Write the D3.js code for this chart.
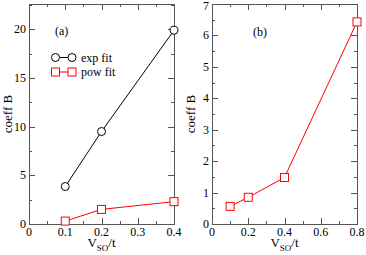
<!DOCTYPE html>
<html>
<head>
<meta charset="utf-8">
<script src="https://cdn.jsdelivr.net/npm/d3@7"></script>
<style>
  body { margin: 0; background: #fff; }
  svg text { font-family: "Liberation Serif", "Times New Roman", Times, serif; font-weight: normal; fill: #000; }
</style>
</head>
<body>
<div id="chart"></div>
<script>
// Panel (a) data
const xA = [0.1, 0.2, 0.4];
const expFit = [3.85, 9.5, 19.9];
const powFit = [0.3, 1.5, 2.3];

// Panel (b) data
const xB = [0.1, 0.2, 0.4, 0.8];
const powFitB = [0.56, 0.85, 1.48, 6.43];

// Tick labels
const xTicksA = [0, 0.1, 0.2, 0.3, 0.4];
const yTicksA = [0, 5, 10, 15, 20];
const xTicksB = [0, 0.2, 0.4, 0.6, 0.8];
const yTicksB = [0, 1, 2, 3, 4, 5, 6, 7];

const legendNames = ["exp fit", "pow fit"];
const red = "#ff0000";

const width = 366, height = 255;
const svg = d3.select("#chart").append("svg")
  .attr("width", width).attr("height", height);

buildPanel({
  left: 29, right: 174, top: 4, bottom: 224,
  xDomain: [0, 0.4], yDomain: [0, 22.6],
  xTicks: xTicksA, xMinor: d3.range(0, 0.4001, 0.05),
  yTicks: yTicksA, yMinor: d3.range(0, 22.6, 2.5),
  xFormat: d => d === 0 ? "0" : d3.format(".1f")(d),
  label: "(a)", labelPos: [55, 35],
  series: [
    { x: xA, y: expFit, color: "#000", marker: "circle" },
    { x: xA, y: powFit, color: red, marker: "square" }
  ],
  legend: true
});

buildPanel({
  left: 212, right: 357, top: 4, bottom: 224,
  xDomain: [0, 0.8], yDomain: [0, 7],
  xTicks: xTicksB, xMinor: d3.range(0, 0.8001, 0.1),
  yTicks: yTicksB, yMinor: d3.range(0, 7.001, 0.5),
  xFormat: d => d === 0 ? "0" : d3.format(".1f")(d),
  label: "(b)", labelPos: [253, 36],
  series: [
    { x: xB, y: powFitB, color: red, marker: "square" }
  ],
  legend: false
});

function buildPanel(p) {
  const x = d3.scaleLinear().domain(p.xDomain).range([p.left, p.right]);
  const y = d3.scaleLinear().domain(p.yDomain).range([p.bottom, p.top]);
  const g = svg.append("g");

  // Frame
  g.append("rect")
    .attr("x", p.left + 0.5).attr("y", p.top + 0.5)
    .attr("width", p.right - p.left).attr("height", p.bottom - p.top)
    .attr("fill", "none").attr("stroke", "#555").attr("stroke-width", 1);

  // Inward ticks on all four sides
  const tk = g.append("g").attr("stroke", "#555").attr("stroke-width", 1);
  const isMajor = (v, list) => list.some(t => Math.abs(t - v) < 1e-6);
  p.xMinor.forEach(v => {
    const len = isMajor(v, p.xTicks) ? 6 : 3;
    const px = Math.round(x(v)) + 0.5;
    tk.append("line").attr("x1", px).attr("x2", px)
      .attr("y1", p.bottom).attr("y2", p.bottom - len);
    tk.append("line").attr("x1", px).attr("x2", px)
      .attr("y1", p.top).attr("y2", p.top + len);
  });
  p.yMinor.forEach(v => {
    const len = isMajor(v, p.yTicks) ? 6 : 3;
    const py = Math.round(y(v)) + 0.5;
    tk.append("line").attr("y1", py).attr("y2", py)
      .attr("x1", p.left).attr("x2", p.left + len);
    tk.append("line").attr("y1", py).attr("y2", py)
      .attr("x1", p.right).attr("x2", p.right - len);
  });

  // Tick labels
  g.selectAll(".xl").data(p.xTicks).enter().append("text")
    .attr("x", d => x(d)).attr("y", p.bottom + 12)
    .attr("text-anchor", "middle").attr("font-size", 12)
    .text(p.xFormat);
  g.selectAll(".yl").data(p.yTicks).enter().append("text")
    .attr("x", p.left - 3).attr("y", d => Math.max(y(d) + 4, 10))
    .attr("text-anchor", "end").attr("font-size", 12)
    .text(d => d);

  // Axis titles
  const xt = g.append("text")
    .attr("x", (p.left + p.right) / 2).attr("y", 247)
    .attr("text-anchor", "middle").attr("font-size", 13);
  xt.append("tspan").text("V");
  xt.append("tspan").attr("font-size", 9).attr("dy", 4).text("SO");
  xt.append("tspan").attr("dy", -4).text("/t");

  g.append("text")
    .attr("transform", `translate(${p.left - 17},${(p.top + p.bottom) / 2}) rotate(-90)`)
    .attr("text-anchor", "middle").attr("font-size", 13)
    .text("coeff B");

  // Panel label
  g.append("text")
    .attr("x", p.labelPos[0]).attr("y", p.labelPos[1])
    .attr("font-size", 12).text(p.label);

  // Series
  const line = d3.line().x(d => x(d[0])).y(d => y(d[1]));
  p.series.forEach(s => {
    const pts = s.x.map((v, i) => [v, s.y[i]]);
    g.append("path").datum(pts)
      .attr("d", line).attr("fill", "none")
      .attr("stroke", s.color).attr("stroke-width", 1);
    drawMarkers(g, pts.map(d => [x(d[0]), y(d[1])]), s);
  });

  if (p.legend) {
    p.series.forEach((s, i) => {
      const ly = 57.5 + i * 14.5;
      g.append("line").attr("x1", 55.5).attr("x2", 72)
        .attr("y1", ly).attr("y2", ly)
        .attr("stroke", s.color).attr("stroke-width", 1);
      drawMarkers(g, [[55.5, ly], [72, ly]], s);
      g.append("text").attr("x", 81).attr("y", ly + 4)
        .attr("font-size", 12).text(legendNames[i]);
    });
  }
}

function drawMarkers(g, pts, s) {
  if (s.marker === "circle") {
    g.selectAll(null).data(pts).enter().append("circle")
      .attr("cx", d => d[0]).attr("cy", d => d[1]).attr("r", 4)
      .attr("fill", "white").attr("stroke", s.color).attr("stroke-width", 1);
  } else {
    g.selectAll(null).data(pts).enter().append("rect")
      .attr("x", d => d[0] - 4).attr("y", d => d[1] - 4)
      .attr("width", 8).attr("height", 8)
      .attr("fill", "white").attr("stroke", s.color).attr("stroke-width", 1);
  }
}
</script>
</body>
</html>
